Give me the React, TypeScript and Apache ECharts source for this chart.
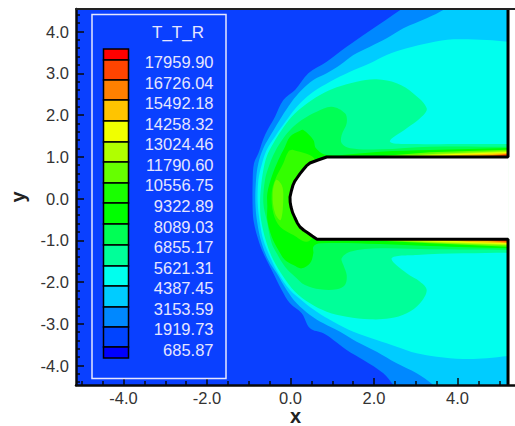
import React, { useEffect, useRef } from "react";
import * as echarts from "echarts";

type P = number[];

const LEGEND_TITLE = "T_T_R";
const LEVEL_LABELS = ["17959.90", "16726.04", "15492.18", "14258.32", "13024.46", "11790.60", "10556.75", "9322.89", "8089.03", "6855.17", "5621.31", "4387.45", "3153.59", "1919.73", "685.87"];
const LEVEL_COLORS = ["#ff0000", "#ff4400", "#ff8000", "#ffc400", "#f0ff00", "#b0ff00", "#66ff00", "#19ff00", "#00ff00", "#00ff55", "#00ff99", "#00ffee", "#00ccff", "#0088ff", "#0044ff", "#0000ff"];
const LEGEND_EDGES = [49, 60, 80, 100, 121, 142, 162, 183, 203, 224, 245, 266, 286, 307, 327, 347, 358];

const X_MAJOR = [-4, -2, 0, 2, 4];
const X_MINOR = [-5, -4.5, -3.5, -3, -2.5, -1.5, -1, -0.5, 0.5, 1, 1.5, 2.5, 3, 3.5, 4.5, 5];
const Y_MAJOR = [-4, -3, -2, -1, 0, 1, 2, 3, 4];
const Y_MINOR = [-4.4, -4.2, -3.8, -3.6, -3.4, -3.2, -2.8, -2.6, -2.4, -2.2, -1.8, -1.6, -1.4, -1.2, -0.8, -0.6, -0.4, -0.2, 0.2, 0.4, 0.6, 0.8, 1.2, 1.4, 1.6, 1.8, 2.2, 2.4, 2.6, 2.8, 3.2, 3.4, 3.6, 3.8, 4.2, 4.4];

const X_MIN = -5.138, X_MAX = 5.377, Y_MIN = -4.467, Y_MAX = 4.539, X_END = 5.21;

const DOMAIN: P[] = [[X_MIN, Y_MIN], [X_END, Y_MIN], [X_END, Y_MAX], [X_MIN, Y_MAX]];
const BAND_A: P[] = [[3.0, 4.8], [2.663, 4.539], [1.864, 3.996], [1.345, 3.636], [0.866, 3.277], [0.427, 2.998], [0.108, 2.598], [-0.172, 2.359], [-0.371, 1.96], [-0.611, 1.52], [-0.77, 1.081], [-0.874, 0.842], [-0.906, 0.443], [-0.906, -0.275], [-0.874, -0.595], [-0.77, -0.994], [-0.651, -1.313], [-0.451, -1.713], [-0.211, -2.192], [-0.012, -2.511], [0.268, -2.751], [0.467, -3.11], [0.787, -3.229], [1.026, -3.389], [1.345, -3.629], [1.745, -3.868], [2.224, -4.188], [2.463, -4.467], [2.75, -4.8], [5.8, -4.8], [5.8, 4.8]];
const BAND_B: P[] = [[4.1, 4.8], [3.701, 4.539], [3.262, 4.315], [2.703, 4.075], [2.303, 3.836], [1.904, 3.636], [1.505, 3.437], [1.186, 3.197], [0.866, 2.998], [0.547, 2.838], [0.268, 2.598], [0.028, 2.319], [-0.211, 1.96], [-0.451, 1.56], [-0.651, 1.201], [-0.77, 0.842], [-0.826, 0.443], [-0.842, -0.1], [-0.794, -0.595], [-0.69, -1.074], [-0.531, -1.473], [-0.331, -1.792], [-0.092, -2.192], [0.148, -2.511], [0.467, -2.79], [0.787, -2.99], [1.186, -3.19], [1.585, -3.429], [2.064, -3.669], [2.543, -3.948], [3.022, -4.188], [3.421, -4.467], [3.75, -4.8], [5.8, -4.8], [5.8, 4.8]];
const BAND_C: P[] = [[5.8, 3.72], [5.21, 3.756], [4.699, 3.796], [3.9, 3.812], [3.341, 3.732], [2.783, 3.596], [2.303, 3.437], [1.904, 3.237], [1.425, 3.037], [0.946, 2.798], [0.547, 2.558], [0.228, 2.279], [-0.092, 1.88], [-0.371, 1.481], [-0.571, 1.161], [-0.691, 0.802], [-0.77, 0.443], [-0.786, -0.1], [-0.73, -0.595], [-0.651, -0.994], [-0.491, -1.393], [-0.291, -1.792], [-0.012, -2.192], [0.308, -2.471], [0.627, -2.711], [1.026, -2.95], [1.505, -3.19], [2.064, -3.389], [2.543, -3.549], [3.022, -3.709], [3.501, -3.788], [4.14, -3.844], [4.699, -3.828], [5.21, -3.772], [5.8, -3.74]];
const BAND_D: P[] = [[5.8, 1.305], [5.21, 1.305], [4.14, 1.305], [3.022, 1.305], [2.383, 1.361], [2.783, 1.68], [3.102, 1.92], [3.262, 2.159], [2.942, 2.518], [2.543, 2.758], [2.064, 2.854], [1.585, 2.798], [1.106, 2.662], [0.707, 2.479], [0.347, 2.239], [0.028, 1.96], [-0.211, 1.64], [-0.411, 1.321], [-0.571, 1.001], [-0.651, 0.682], [-0.706, 0.283], [-0.73, -0.1], [-0.706, -0.515], [-0.571, -1.074], [-0.411, -1.473], [-0.172, -1.872], [0.108, -2.232], [0.467, -2.511], [0.866, -2.711], [1.345, -2.83], [1.904, -2.894], [2.383, -2.87], [2.783, -2.75], [3.102, -2.511], [3.262, -2.192], [3.102, -1.992], [2.783, -1.792], [2.423, -1.433], [3.022, -1.353], [4.14, -1.313], [5.21, -1.297], [5.8, -1.297]];
const BAND_E: P[] = [[5.8, 1.241], [5.21, 1.241], [3.341, 1.241], [2.144, 1.177], [1.425, 1.201], [1.225, 1.321], [1.225, 1.52], [1.345, 1.8], [1.305, 2.039], [0.986, 2.199], [0.627, 2.079], [0.268, 1.88], [0.028, 1.68], [-0.172, 1.441], [-0.371, 1.121], [-0.507, 0.802], [-0.611, 0.443], [-0.651, -0.1], [-0.571, -0.515], [-0.451, -1.074], [-0.331, -1.313], [-0.132, -1.633], [0.108, -1.872], [0.347, -2.072], [0.707, -2.176], [1.106, -2.176], [1.305, -2.072], [1.345, -1.832], [1.266, -1.593], [1.225, -1.433], [1.425, -1.273], [2.144, -1.194], [3.341, -1.217], [5.21, -1.233], [5.8, -1.233]];
const BAND_F: P[] = [[5.8, 1.209], [5.21, 1.209], [3.341, 1.161], [2.144, 1.121], [0.866, 1.041], [0.611, 1.201], [0.547, 1.401], [0.308, 1.64], [0.228, 1.624], [-0.012, 1.481], [-0.132, 1.241], [-0.291, 0.922], [-0.451, 0.522], [-0.555, 0.123], [-0.555, -0.2], [-0.555, -0.515], [-0.451, -0.914], [-0.291, -1.233], [-0.132, -1.473], [0.068, -1.593], [0.268, -1.673], [0.467, -1.553], [0.547, -1.313], [0.547, -1.154], [0.707, -1.074], [2.144, -1.09], [3.341, -1.138], [5.21, -1.194], [5.8, -1.194]];
const BAND_G: P[] = [[-0.052, 1.122], [-0.172, 0.843], [-0.371, 0.443], [-0.451, 0.124], [-0.411, -0.355], [-0.251, -0.674], [0.068, -0.874], [0.387, -1.034], [0.6, -0.8], [0.6, 0.9], [0.068, 1.162]];
const BAND_H: P[] = [[-0.347, 0.443], [-0.427, 0.084], [-0.371, -0.355], [-0.235, -0.515], [-0.172, 0.044], [-0.211, 0.324]];

const WALL_UP_1: P[] = [[1.984, 1.0], [3.341, 1.105], [5.21, 1.169], [5.21, 1.0]];
const WALL_UP_2: P[] = [[2.383, 1.0], [3.501, 1.073], [5.21, 1.137], [5.21, 1.0]];
const WALL_UP_3: P[] = [[2.703, 1.0], [3.741, 1.057], [5.21, 1.113], [5.21, 1.0]];
const WALL_UP_4: P[] = [[3.341, 1.0], [4.14, 1.049], [5.21, 1.089], [5.21, 1.0]];
const WALL_UP_5: P[] = [[4.299, 1.0], [5.21, 1.073], [5.21, 1.0]];
const WALL_UP_6: P[] = [[4.699, 1.0], [5.21, 1.057], [5.21, 1.0]];
const WALL_DN_1: P[] = [[1.585, -0.98], [3.341, -1.074], [5.21, -1.154], [5.21, -0.98]];
const WALL_DN_2: P[] = [[1.984, -0.98], [3.501, -1.058], [5.21, -1.122], [5.21, -0.98]];
const WALL_DN_3: P[] = [[2.383, -0.98], [3.741, -1.05], [5.21, -1.098], [5.21, -0.98]];
const WALL_DN_4: P[] = [[3.501, -0.98], [4.299, -1.042], [5.21, -1.074], [5.21, -0.98]];
const WALL_DN_5: P[] = [[4.299, -0.98], [5.21, -1.058], [5.21, -0.98]];
const WALL_DN_6: P[] = [[4.619, -0.98], [5.21, -1.034], [5.21, -0.98]];

const NOSE: P[] = [[0.867, 0.994], [0.659, 0.922], [0.467, 0.85], [0.38, 0.78], [0.299, 0.683], [0.225, 0.59], [0.156, 0.491], [0.1, 0.41], [0.06, 0.323], [0.02, 0.18], [-0.012, 0.036], [-0.008, -0.09], [0.012, -0.204], [0.05, -0.34], [0.108, -0.467], [0.16, -0.58], [0.228, -0.683], [0.32, -0.76], [0.419, -0.826], [0.52, -0.9], [0.635, -0.977]];
const BODY: P[] = [...NOSE, [X_END, -0.977], [X_END, 0.994]];
const OUTLINE: P[] = [[X_END, Y_MAX], [X_END, 0.994], ...NOSE, [X_END, -0.977], [X_END, Y_MIN]];
const OUTSIDE: P[] = [[X_END, -5], [6, -5], [6, 5], [X_END, 5]];

const LAYERS: { points: P[]; color: string; round: number }[] = [
  { points: DOMAIN, color: "#0a40ff", round: 0 },
  { points: BAND_A, color: "#0088ff", round: 0.35 },
  { points: BAND_B, color: "#00ccff", round: 0.35 },
  { points: BAND_C, color: "#00ffee", round: 0.35 },
  { points: BAND_D, color: "#00ff99", round: 0.35 },
  { points: BAND_E, color: "#00ff55", round: 0.35 },
  { points: BAND_F, color: "#00ff00", round: 0.35 },
  { points: BAND_G, color: "#33ff00", round: 0.35 },
  { points: BAND_H, color: "#66ff00", round: 0.35 },
  { points: WALL_UP_1, color: "#66ff00", round: 0 },
  { points: WALL_UP_2, color: "#b0ff00", round: 0 },
  { points: WALL_UP_3, color: "#f0ff00", round: 0 },
  { points: WALL_UP_4, color: "#ffc400", round: 0 },
  { points: WALL_UP_5, color: "#ff8000", round: 0 },
  { points: WALL_UP_6, color: "#ff4400", round: 0 },
  { points: WALL_DN_1, color: "#66ff00", round: 0 },
  { points: WALL_DN_2, color: "#b0ff00", round: 0 },
  { points: WALL_DN_3, color: "#f0ff00", round: 0 },
  { points: WALL_DN_4, color: "#ffc400", round: 0 },
  { points: WALL_DN_5, color: "#ff8000", round: 0 },
  { points: WALL_DN_6, color: "#ff4400", round: 0 },
  { points: BODY, color: "#ffffff", round: 0 },
  { points: OUTSIDE, color: "#ffffff", round: 0 },
];

const FONT = "'Liberation Sans', Arial, sans-serif";
const INK = "#0a0a0a";

export default function App() {
  const ref = useRef<HTMLDivElement>(null);
  useEffect(() => {
    const chart = echarts.init(ref.current!, undefined, { renderer: "svg" });
    const blank = { show: false };
    const hiddenLine = { show: false, onZero: false };
    const legendGraphics: any[] = [
      { type: "rect", z: 20, shape: { x: 92, y: 14.5, width: 134, height: 364 }, style: { fill: "transparent", stroke: "#e6e6ff", lineWidth: 1.5 } },
      { type: "text", z: 20, x: 178, y: 32, style: { text: LEGEND_TITLE, fill: "#e6e6ff", font: `17px ${FONT}`, align: "center", verticalAlign: "middle" } },
      ...LEVEL_COLORS.map((color, i) => ({
        type: "rect", z: 20,
        shape: { x: 103.5, y: LEGEND_EDGES[i], width: 25, height: LEGEND_EDGES[i + 1] - LEGEND_EDGES[i] },
        style: { fill: color, stroke: "#000000", lineWidth: 1.5 },
      })),
      ...LEVEL_LABELS.map((text, i) => ({
        type: "text", z: 20, x: 213.5, y: 62 + (i * 288) / 14,
        style: { text, fill: "#e6e6ff", font: `16.5px ${FONT}`, align: "right", verticalAlign: "middle" },
      })),
    ];
    chart.setOption({
      animation: false,
      backgroundColor: "#ffffff",
      grid: { left: 76, top: 9, right: 0, bottom: 41, containLabel: false, outerBoundsMode: "none" },
      xAxis: [
        {
          type: "value", min: X_MIN, max: X_MAX, z: 10, position: "bottom",
          name: "x", nameLocation: "middle", nameGap: 21, nameMoveOverlap: false,
          nameTextStyle: { color: "#222", fontFamily: FONT, fontWeight: "bold", fontSize: 20 },
          splitLine: blank,
          axisLine: { show: true, onZero: false, lineStyle: { color: INK, width: 2.5 } },
          axisTick: { show: true, inside: true, length: 7, customValues: X_MAJOR, lineStyle: { color: INK, width: 1.5 } },
          axisLabel: { show: true, margin: 4, customValues: X_MAJOR, color: "#333", fontFamily: FONT, fontSize: 16.5, formatter: (v: number) => v.toFixed(1) },
        },
        {
          type: "value", min: X_MIN, max: X_MAX, z: 10, position: "bottom",
          splitLine: blank, axisLine: hiddenLine, axisLabel: blank,
          axisTick: { show: true, inside: true, length: 4, customValues: X_MINOR, lineStyle: { color: INK, width: 1.5 } },
        },
        {
          type: "value", min: X_MIN, max: X_MAX, z: 10, position: "top",
          splitLine: blank, axisTick: blank, axisLabel: blank,
          axisLine: { show: true, onZero: false, lineStyle: { color: "#222", width: 2 } },
        },
      ],
      yAxis: [
        {
          type: "value", min: Y_MIN, max: Y_MAX, z: 10, position: "left",
          name: "y", nameLocation: "middle", nameGap: 48, nameRotate: 90, nameMoveOverlap: false,
          nameTextStyle: { color: "#222", fontFamily: FONT, fontWeight: "bold", fontSize: 20 },
          splitLine: blank,
          axisLine: { show: true, onZero: false, lineStyle: { color: INK, width: 2.5 } },
          axisTick: { show: true, inside: true, length: 8, customValues: Y_MAJOR, lineStyle: { color: INK, width: 1.5 } },
          axisLabel: { show: true, margin: 7, customValues: Y_MAJOR, color: "#333", fontFamily: FONT, fontSize: 16.5, formatter: (v: number) => v.toFixed(1) },
        },
        {
          type: "value", min: Y_MIN, max: Y_MAX, z: 10, position: "left",
          splitLine: blank, axisLine: hiddenLine, axisLabel: blank,
          axisTick: { show: true, inside: true, length: 4, customValues: Y_MINOR, lineStyle: { color: INK, width: 1.5 } },
        },
      ],
      series: [
        {
          type: "custom", xAxisIndex: 0, yAxisIndex: 0, silent: true, z: 2, clip: true,
          data: LAYERS.map((_, i) => [i]),
          encode: { x: [], y: [] },
          renderItem: (params: any, api: any) => {
            const layer = LAYERS[params.dataIndex];
            return {
              type: "polygon",
              shape: { points: layer.points.map((p) => api.coord(p)), smooth: layer.round },
              style: { fill: layer.color, stroke: "none" },
            };
          },
        },
        {
          type: "line", xAxisIndex: 0, yAxisIndex: 0, silent: true, z: 5, symbol: "none", clip: false,
          data: OUTLINE, lineStyle: { color: "#000000", width: 3 },
        },
      ],
      graphic: legendGraphics,
    });
    return () => chart.dispose();
  }, []);
  return <div ref={ref} style={{ position: "fixed", left: 0, top: 0, width: 515, height: 426 }} />;
}
